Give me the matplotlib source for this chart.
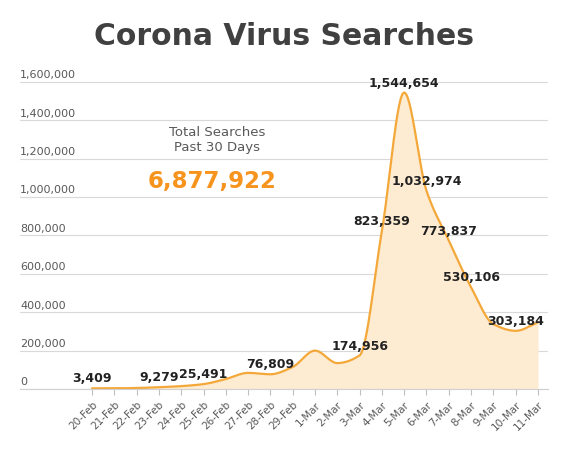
import numpy as np
import matplotlib
matplotlib.use("Agg")
import matplotlib.pyplot as plt

# --- dados ---
dates = ["20-Feb", "21-Feb", "22-Feb", "23-Feb", "24-Feb", "25-Feb", "26-Feb",
         "27-Feb", "28-Feb", "29-Feb", "1-Mar", "2-Mar", "3-Mar", "4-Mar",
         "5-Mar", "6-Mar", "7-Mar", "8-Mar", "9-Mar", "10-Mar", "11-Mar"]
searches = [3409, 3600, 5200, 9279, 15000, 25491, 52000, 84000, 76809, 115000,
            200000, 135000, 174956, 823359, 1544654, 1032974, 773837, 530106,
            338000, 303184, 347000]
labelled_days = ["20-Feb", "23-Feb", "25-Feb", "28-Feb", "3-Mar", "4-Mar",
                 "5-Mar", "6-Mar", "7-Mar", "8-Mar", "10-Mar"]
y_ticks = [0, 200000, 400000, 600000, 800000, 1000000, 1200000, 1400000, 1600000]
total_searches = 6877922

LINE = "#F4A83A"
FILL = "#FDEBD2"
GRAY = "#595959"


def suavizar(x, y, n=30):
    # interpolação cúbica monotônica (Fritsch-Carlson) só para desenhar a linha
    x = np.asarray(x, float)
    y = np.asarray(y, float)
    h = np.diff(x)
    d = np.diff(y) / h
    m = np.zeros_like(y)
    for k in range(1, len(y) - 1):
        if d[k - 1] * d[k] > 0:
            w1 = 2 * h[k] + h[k - 1]
            w2 = h[k] + 2 * h[k - 1]
            m[k] = (w1 + w2) / (w1 / d[k - 1] + w2 / d[k])
    m[0], m[-1] = d[0], d[-1]
    xs, ys = [], []
    t = np.linspace(0, 1, n, endpoint=False)
    for k in range(len(y) - 1):
        h00 = 2 * t ** 3 - 3 * t ** 2 + 1
        h10 = t ** 3 - 2 * t ** 2 + t
        h01 = -2 * t ** 3 + 3 * t ** 2
        h11 = t ** 3 - t ** 2
        xs.append(x[k] + t * h[k])
        ys.append(h00 * y[k] + h10 * h[k] * m[k] + h01 * y[k + 1] + h11 * h[k] * m[k + 1])
    xs.append([x[-1]])
    ys.append([y[-1]])
    return np.concatenate(xs), np.concatenate(ys)


fig = plt.figure(figsize=(5.8, 4.6), dpi=100)
ax = fig.add_axes([20 / 580, 1 - 390 / 460, 528 / 580, 315 / 460])

xi = np.arange(len(dates))
xs, ys = suavizar(xi, searches)
ax.fill_between(xs, ys, 0, color=FILL, lw=0)
ax.plot(xs, ys, color=LINE, lw=1.6, solid_capstyle="round")

ax.set_xlim(-3.23, 20.45)
ax.set_ylim(0, 1641500)

# grade e eixos
ax.set_yticks(y_ticks)
ax.yaxis.grid(True, color="#d9d9d9", lw=0.8)
ax.set_axisbelow(True)
ax.tick_params(axis="y", length=0, labelleft=False)
for v in y_ticks:
    ax.annotate(f"{v:,}", xy=(0, v), xycoords=("axes fraction", "data"),
                xytext=(0, 5.5), textcoords="offset points",
                ha="left", va="center", fontsize=8, color=GRAY)

ax.set_xticks(xi)
ax.set_xticklabels(dates, rotation=45, ha="right", rotation_mode="anchor",
                   fontsize=7.5, color=GRAY)
ax.tick_params(axis="x", length=4, color="#bfbfbf", pad=3)

for s in ["top", "right", "left"]:
    ax.spines[s].set_visible(False)
ax.spines["bottom"].set_color("#d0d0d0")

# rótulos de dados
for d in labelled_days:
    i = dates.index(d)
    ax.annotate(f"{searches[i]:,}", xy=(i, searches[i]), xytext=(0, 7.5),
                textcoords="offset points", ha="center", va="center",
                fontsize=9, fontweight="bold", color="#222222",
                annotation_clip=False)

# título e destaque
fig.text(0.49, 1 - 45 / 460, "Corona Virus Searches", ha="center",
         va="baseline", fontsize=21.5, fontweight="bold", color="#404040")
fig.text(217 / 580, 1 - 140 / 460, "Total Searches\nPast 30 Days", ha="center",
         va="center", fontsize=9.5, color=GRAY, linespacing=1.25)
fig.text(212 / 580, 1 - 188 / 460, f"{total_searches:,}", ha="center",
         va="baseline", fontsize=16.5, fontweight="bold", color="#F7941D")

fig.savefig("out.png", dpi=100)
